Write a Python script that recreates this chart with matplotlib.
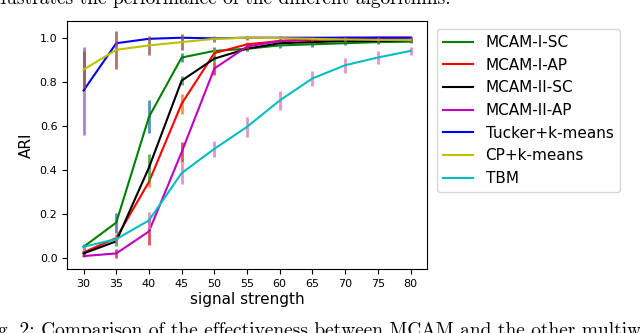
import matplotlib
matplotlib.use("Agg")
import matplotlib.pyplot as plt

# signal strength on the x axis
strength = [30, 35, 40, 45, 50, 55, 60, 65, 70, 75, 80]

mcam_i_sc = [0.05, 0.16, 0.64, 0.91, 0.94, 0.95, 0.965, 0.97, 0.975, 0.98, 0.982]
mcam_i_sc_err = [0.015, 0.045, 0.075, 0.02, 0.02, 0.01, 0.01, 0.01, 0.01, 0.008, 0.005]

mcam_i_ap = [0.025, 0.09, 0.345, 0.70, 0.93, 0.97, 0.985, 0.99, 0.995, 1.0, 1.0]
mcam_i_ap_err = [0.01, 0.02, 0.025, 0.045, 0.02, 0.01, 0.008, 0.005, 0.004, 0.003, 0.002]

mcam_ii_sc = [0.02, 0.075, 0.41, 0.805, 0.905, 0.95, 0.975, 0.98, 0.985, 0.985, 0.99]
mcam_ii_sc_err = [0.01, 0.02, 0.06, 0.02, 0.015, 0.01, 0.008, 0.006, 0.005, 0.005, 0.004]

mcam_ii_ap = [0.008, 0.02, 0.12, 0.48, 0.86, 0.96, 0.985, 0.995, 1.0, 1.0, 1.0]
mcam_ii_ap_err = [0.005, 0.02, 0.06, 0.045, 0.03, 0.01, 0.005, 0.004, 0.003, 0.002, 0.002]

tucker = [0.76, 0.975, 0.995, 1.0, 0.997, 1.0, 1.0, 1.0, 1.0, 1.0, 1.0]
tucker_err = [0.2, 0.01, 0.005, 0.004, 0.004, 0.003, 0.002, 0.002, 0.002, 0.002, 0.002]

cp = [0.855, 0.945, 0.965, 0.98, 0.995, 1.0, 0.998, 0.995, 0.992, 0.99, 0.99]
cp_err = [0.085, 0.085, 0.045, 0.035, 0.015, 0.01, 0.01, 0.01, 0.01, 0.015, 0.01]

tbm = [0.05, 0.085, 0.17, 0.385, 0.495, 0.595, 0.715, 0.815, 0.875, 0.91, 0.94]
tbm_err = [0.01, 0.015, 0.04, 0.05, 0.035, 0.045, 0.045, 0.035, 0.035, 0.03, 0.02]

names = ["MCAM-I-SC", "MCAM-I-AP", "MCAM-II-SC", "MCAM-II-AP",
         "Tucker+k-means", "CP+k-means", "TBM"]
line_colors = ["g", "r", "k", "m", "b", "y", "c"]
means = [mcam_i_sc, mcam_i_ap, mcam_ii_sc, mcam_ii_ap, tucker, cp, tbm]
errs = [mcam_i_sc_err, mcam_i_ap_err, mcam_ii_sc_err, mcam_ii_ap_err,
        tucker_err, cp_err, tbm_err]

fig = plt.figure(figsize=(6.4, 3.33), dpi=100)
ax = fig.add_axes([0.105, 0.192, 0.562, 0.745])

for i in range(len(names)):
    # error bars take the default colour cycle, the lines get fixed colours
    ax.errorbar(strength, means[i], yerr=errs[i], fmt="none",
                ecolor=f"C{i}", elinewidth=2, alpha=0.8)
    ax.plot(strength, means[i], color=line_colors[i], lw=1.5, label=names[i])

ax.set_xticks(strength)
ax.set_yticks([0.0, 0.2, 0.4, 0.6, 0.8, 1.0])
ax.tick_params(labelsize=8)
ax.set_xlim(27.5, 82.5)
ax.set_ylim(-0.051, 1.076)
ax.set_xlabel("signal strength", fontsize=11, labelpad=2)
ax.set_ylabel("ARI", fontsize=11)

ax.legend(loc="upper left", bbox_to_anchor=(436.7 / 640, 1 - 29 / 333),
          bbox_transform=fig.transFigure, borderaxespad=0, fontsize=11)

# cropped paper text above and below the figure
fig.text(451 / 640, 1 - 3.5 / 333, "illustrates the performance of the different algorithms.",
         family="cmr10", fontsize=14, ha="right", va="baseline")
fig.text(-2 / 640, -2.5 / 333,
         "g. 2: Comparison of the effectiveness between MCAM and the other multiway",
         family="cmr10", fontsize=14, ha="left", va="baseline")

fig.savefig("out.png", dpi=100)
